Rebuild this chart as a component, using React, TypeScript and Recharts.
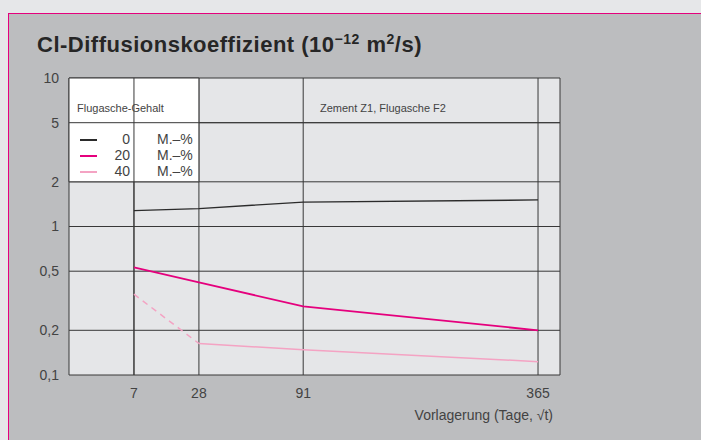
import {
  CartesianGrid,
  Line,
  LineChart,
  ReferenceArea,
  ReferenceLine,
  XAxis,
  YAxis,
} from "recharts";

// storage time in days (x axis drawn on a sqrt scale)
const days = [7, 28, 91, 365];
const xTicks = [0, 7, 28, 91, 365, 400];
const yTicks = [0.1, 0.2, 0.5, 1, 2, 5, 10];

// Cl diffusion coefficient, 10^-12 m²/s
const fly0 = [1.28, 1.32, 1.46, 1.51];
const fly20 = [0.53, 0.42, 0.29, 0.2];
const fly40 = [0.35, 0.163, 0.148, 0.123];

const legendLabels = ["0", "20", "40"];
const legendUnit = "M.–%";
const colors = ["#2b2b2b", "#e5007d", "#f4a3c3"];

const data = days.map((t, i) => ({
  t,
  s0: fly0[i],
  s20: fly20[i],
  s40dash: i <= 1 ? fly40[i] : null,
  s40: i >= 1 ? fly40[i] : null,
}));

const font = "'Liberation Sans', Arial, sans-serif";
const textColor = "#434343";

export default function App() {
  return (
    <div
      style={{
        position: "fixed",
        left: 0,
        top: 0,
        width: 701,
        height: 440,
        background: "#e6e7e9",
        fontFamily: font,
        overflow: "hidden",
      }}
    >
      <div
        style={{
          position: "absolute",
          left: 8,
          top: 13,
          width: 760,
          height: 500,
          background: "#bcbdbf",
          borderLeft: "1.5px solid #e5007d",
          borderTop: "1.5px solid #e5007d",
        }}
      />
      <div
        style={{
          position: "absolute",
          left: 37,
          top: 31,
          fontSize: 22,
          letterSpacing: 0.5,
          fontWeight: 700,
          color: "#262626",
          whiteSpace: "nowrap",
        }}
      >
        Cl-Diffusionskoeffizient (10<sup style={{ fontSize: 14 }}>−12</sup> m
        <sup style={{ fontSize: 14 }}>2</sup>/s)
      </div>
      <div style={{ position: "absolute", left: 0, top: 0 }}>
        <LineChart
          width={701}
          height={440}
          data={data}
          margin={{ top: 78, right: 141, bottom: 35, left: 9 }}
        >
          <CartesianGrid stroke="#383838" strokeWidth={1} fill="#e5e6e8" fillOpacity={1} />
          <ReferenceArea x1={0} x2={28} y1={2} y2={10} fill="#ffffff" fillOpacity={1} stroke="#383838" />
          <ReferenceLine x={7} stroke="#383838" />
          <ReferenceLine y={5} stroke="#383838" />
          <XAxis
            type="number"
            dataKey="t"
            scale="sqrt"
            domain={[0, 400]}
            ticks={xTicks}
            tickFormatter={(v) => (v === 0 || v === 400 ? "" : String(v))}
            axisLine={false}
            tickLine={false}
            tickSize={0}
            tickMargin={13}
            height={30}
            tick={{ fill: textColor, fontSize: 14, fontFamily: font }}
            allowDataOverflow
          />
          <YAxis
            type="number"
            scale="log"
            domain={[0.1, 10]}
            ticks={yTicks}
            tickFormatter={(v) => String(v).replace(".", ",")}
            axisLine={false}
            tickLine={false}
            tickSize={0}
            tickMargin={10}
            width={60}
            tick={{ fill: textColor, fontSize: 14, fontFamily: font }}
            allowDataOverflow
          />
          <Line dataKey="s0" stroke={colors[0]} strokeWidth={1.4} dot={false} isAnimationActive={false} />
          <Line dataKey="s20" stroke={colors[1]} strokeWidth={1.8} dot={false} isAnimationActive={false} />
          <Line
            dataKey="s40dash"
            stroke={colors[2]}
            strokeWidth={1.5}
            strokeDasharray="6 5"
            dot={false}
            isAnimationActive={false}
          />
          <Line dataKey="s40" stroke={colors[2]} strokeWidth={1.5} dot={false} isAnimationActive={false} />
        </LineChart>
      </div>
      <div style={{ position: "absolute", left: 77, top: 102, fontSize: 11, color: textColor }}>
        Flugasche-Gehalt
      </div>
      <div style={{ position: "absolute", left: 320, top: 102, fontSize: 11, color: textColor }}>
        Zement Z1, Flugasche F2
      </div>
      {legendLabels.map((label, i) => (
        <div key={label}>
          <div
            style={{
              position: "absolute",
              left: 80,
              top: 139 + i * 16,
              width: 17,
              height: 1.5,
              background: colors[i],
            }}
          />
          <div
            style={{
              position: "absolute",
              left: 100,
              width: 30,
              textAlign: "right",
              top: 131 + i * 16,
              fontSize: 14,
              color: textColor,
            }}
          >
            {label}
          </div>
          <div
            style={{
              position: "absolute",
              left: 157,
              top: 131 + i * 16,
              fontSize: 14,
              color: textColor,
            }}
          >
            {legendUnit}
          </div>
        </div>
      ))}
      <div
        style={{
          position: "absolute",
          right: 701 - 553,
          top: 407,
          fontSize: 14,
          color: textColor,
          whiteSpace: "nowrap",
        }}
      >
        Vorlagerung (Tage, √t)
      </div>
    </div>
  );
}
